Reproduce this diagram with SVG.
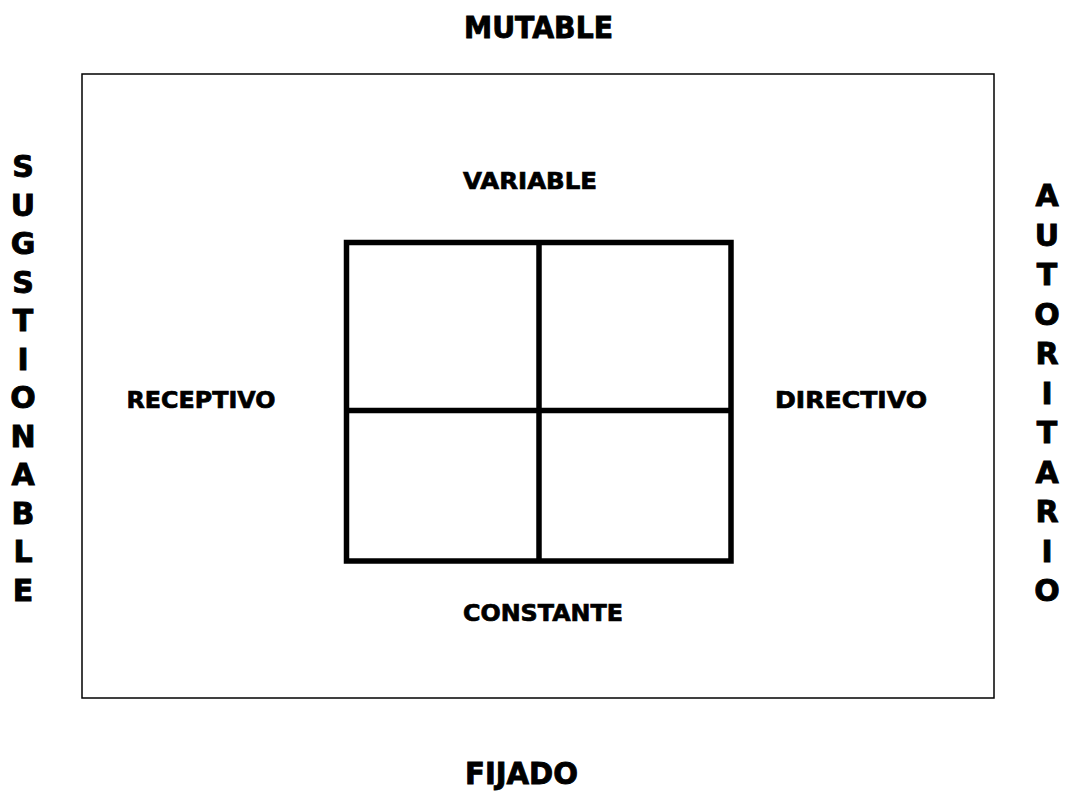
<svg xmlns="http://www.w3.org/2000/svg" width="1070" height="791" viewBox="0 0 1070 791">
<style>
text{font-family:"DejaVu Sans","Verdana",sans-serif;font-weight:bold;fill:#000;stroke:#000;}
.big{font-size:30px;stroke-width:0.9;}
.mid{font-size:23px;stroke-width:0.7;}
.c{text-anchor:middle;}
.grid{fill:none;stroke:#000;stroke-width:5.5;}
</style>
<rect width="1070" height="791" fill="#fff"/>
<g id="frame"><rect x="82" y="74" width="912" height="624" fill="none" stroke="#000" stroke-width="1.5"/></g>
<g id="grid">
<rect class="grid" x="346.5" y="242.5" width="384.5" height="318.5"/>
<line class="grid" x1="539" y1="242.5" x2="539" y2="561"/>
<line class="grid" x1="346.5" y1="410.5" x2="731" y2="410.5"/>
</g>
<g id="mutable"><text class="big c" x="538.5" y="38" textLength="149" lengthAdjust="spacingAndGlyphs">MUTABLE</text></g>
<g id="fijado"><text class="big c" x="521.5" y="784" textLength="113" lengthAdjust="spacingAndGlyphs">FIJADO</text></g>
<g id="variable"><text class="mid c" x="530" y="189" textLength="134" lengthAdjust="spacingAndGlyphs">VARIABLE</text></g>
<g id="constante"><text class="mid c" x="543" y="621" textLength="160" lengthAdjust="spacingAndGlyphs">CONSTANTE</text></g>
<g id="receptivo"><text class="mid c" x="201" y="408" textLength="149" lengthAdjust="spacingAndGlyphs">RECEPTIVO</text></g>
<g id="directivo"><text class="mid c" x="851" y="408" textLength="152" lengthAdjust="spacingAndGlyphs">DIRECTIVO</text></g>
<g id="sugstionable">
<text class="big c" x="23" y="177">S</text>
<text class="big c" x="23" y="215.5">U</text>
<text class="big c" x="23" y="254">G</text>
<text class="big c" x="23" y="292.5">S</text>
<text class="big c" x="23" y="331">T</text>
<text class="big c" x="23" y="369.5">I</text>
<text class="big c" x="23" y="408">O</text>
<text class="big c" x="23" y="446.5">N</text>
<text class="big c" x="23" y="485">A</text>
<text class="big c" x="23" y="523.5">B</text>
<text class="big c" x="23" y="562">L</text>
<text class="big c" x="23" y="600.5">E</text>
</g>
<g id="autoritario">
<text class="big c" x="1047" y="206">A</text>
<text class="big c" x="1047" y="245.5">U</text>
<text class="big c" x="1047" y="285">T</text>
<text class="big c" x="1047" y="324.5">O</text>
<text class="big c" x="1047" y="364">R</text>
<text class="big c" x="1047" y="403.5">I</text>
<text class="big c" x="1047" y="443">T</text>
<text class="big c" x="1047" y="482.5">A</text>
<text class="big c" x="1047" y="522">R</text>
<text class="big c" x="1047" y="561.5">I</text>
<text class="big c" x="1047" y="601">O</text>
</g>
</svg>
